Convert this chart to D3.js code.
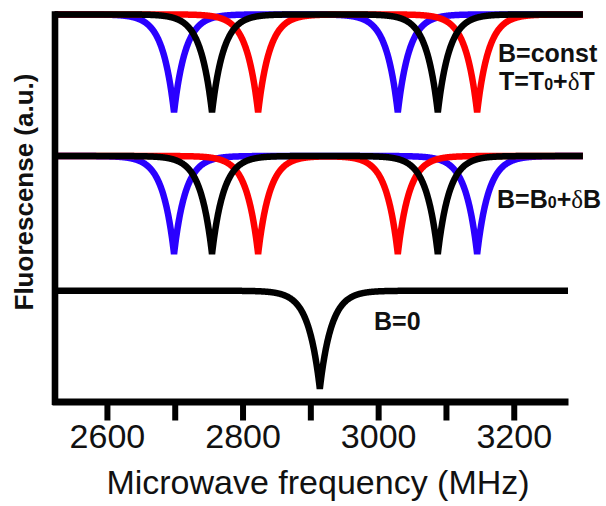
<!DOCTYPE html>
<html>
<head>
<meta charset="utf-8">
<script src="https://cdn.jsdelivr.net/npm/d3@7"></script>
<style>
  html, body { margin: 0; padding: 0; background: #fff; }
  svg { display: block; font-family: "Liberation Sans", Arial, Helvetica, sans-serif; }
</style>
</head>
<body>
<svg id="chart" width="606" height="506"></svg>
<script>
// ---- data ----
const freqDomain = [2519, 3280];                 // MHz at the ends of the x axis
const tickValues = [2600, 2700, 2800, 2900, 3000, 3100, 3200];
const tickLabels = ["2600", "", "2800", "", "3000", "", "3200"];
const panelBaselines = [1.13, 2.505, 3.95];      // fluorescence level (a.u.) of each trace
const panelEnds = [3280, 3302, 3302];            // MHz where each trace ends
const panelStart = 2523;
const dipDepth = 1.0;                            // contrast of every dip (a.u.)
const dipWidth = 17;                             // MHz (decay constant of the cusp-shaped dip)
// resonance frequencies (MHz) per panel: [B=0, B=B0+dB, B=const]
const blackRes = [[2914], [2755, 3088], [2755, 3088]];
const blueRes  = [[],     [2699, 3146], [2699, 3029]];
const redRes   = [[],     [2823, 3029], [2823, 3146]];
const seriesColors = { blue: "#2a00ff", red: "#ff0000", black: "#000000" };

// ---- layout ----
const svg = d3.select("#chart");
const x = d3.scaleLinear().domain(freqDomain).range([52, 568]);
const y = d3.scaleLinear().domain([0, 4]).range([401.5, 9.5]);

function trace(baseline, res, f0, f1) {
  const pts = [];
  const step = 0.5;
  for (let f = f0; f <= f1 + 1e-9; f += step) {
    let v = baseline;
    res.forEach(c => { v -= dipDepth * Math.exp(-Math.abs(f - c) / dipWidth); });
    pts.push([f, v]);
  }
  return pts;
}
const line = d3.line().x(d => x(d[0])).y(d => y(d[1]));

const g = svg.append("g");
panelBaselines.forEach((b, i) => {
  const layers = [
    { res: blueRes[i], color: seriesColors.blue },
    { res: redRes[i], color: seriesColors.red },
    { res: blackRes[i], color: seriesColors.black }
  ];
  layers.forEach(L => {
    if (!L.res.length) return;
    g.append("path")
      .attr("d", line(trace(b, L.res, panelStart, panelEnds[i])))
      .attr("fill", "none")
      .attr("stroke", L.color)
      .attr("stroke-width", 6.5)
      .attr("stroke-linejoin", "miter")
      .attr("stroke-miterlimit", 2);
  });
});

// x axis
const xAxis = d3.axisBottom(x)
  .tickValues(tickValues)
  .tickFormat((d, i) => tickLabels[i])
  .tickSize(19)
  .tickSizeOuter(0)
  .tickPadding(3);
const ax = svg.append("g").attr("transform", `translate(0,${y(0)})`).call(xAxis);
ax.select(".domain").attr("stroke", "#000").attr("stroke-width", 7);
ax.selectAll(".tick line").attr("stroke", "#000").attr("stroke-width", 6);
ax.selectAll(".tick text")
  .attr("fill", "#111")
  .style("font-size", "34px")
  .style("font-family", "'Liberation Sans', Arial, sans-serif");

// y axis line
svg.append("line")
  .attr("x1", 55).attr("x2", 55)
  .attr("y1", y(panelBaselines[2]) - 3.2).attr("y2", y(0) + 3.5)
  .attr("stroke", "#000").attr("stroke-width", 6.6);

// axis titles
svg.append("text")
  .attr("x", 318).attr("y", 494)
  .attr("text-anchor", "middle")
  .style("font-size", "34px")
  .attr("fill", "#111")
  .text("Microwave frequency (MHz)");

svg.append("text")
  .attr("transform", "translate(33,192) rotate(-90)")
  .attr("text-anchor", "middle")
  .style("font-size", "26px")
  .style("font-weight", "bold")
  .attr("fill", "#111")
  .text("Fluorescense (a.u.)");

// panel labels
function label(xp, yp, parts) {
  const t = svg.append("text").attr("x", xp).attr("y", yp)
    .style("font-size", "25px").style("font-weight", "bold").attr("fill", "#111");
  parts.forEach(p => {
    const s = t.append("tspan").text(p.t);
    if (p.sub) s.style("font-size", "16px");
    if (p.light) s.style("font-weight", "normal").style("font-family", "'Liberation Serif', serif");
  });
}
label(498, 62, [{ t: "B=const" }]);
label(499, 90, [{ t: "T=T" }, { t: "0", sub: true }, { t: "+" }, { t: "δ", light: true }, { t: "T" }]);
label(497, 208, [{ t: "B=B" }, { t: "0", sub: true }, { t: "+" }, { t: "δ", light: true }, { t: "B" }]);
label(374, 330, [{ t: "B=0" }]);
</script>
</body>
</html>
